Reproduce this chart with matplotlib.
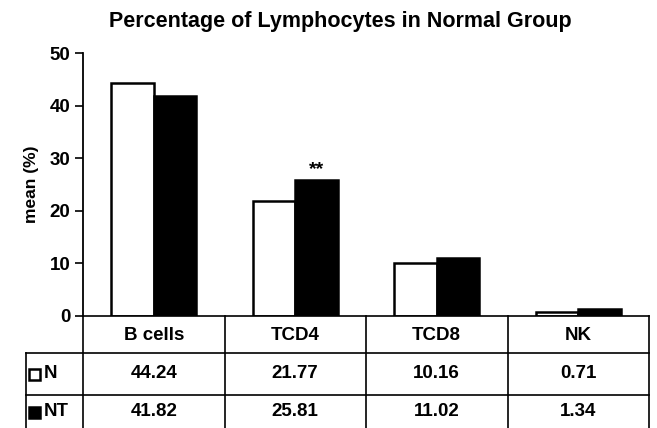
import matplotlib
matplotlib.use('Agg')
from matplotlib import pyplot as plt
from matplotlib import transforms
from matplotlib.patches import Rectangle

plt.rcParams['font.family'] = ['Liberation Sans', 'DejaVu Sans']

# 数据
categories = ['B cells', 'TCD4', 'TCD8', 'NK']
series_names = ['N', 'NT']
values_n = [44.24, 21.77, 10.16, 0.71]
values_nt = [41.82, 25.81, 11.02, 1.34]
value_labels_n = ['44.24', '21.77', '10.16', '0.71']
value_labels_nt = ['41.82', '25.81', '11.02', '1.34']
y_ticks = [0, 10, 20, 30, 40, 50]

W, H = 657, 428
fig = plt.figure(figsize=(W / 100, H / 100), dpi=100)
fig.patch.set_facecolor('white')

# 坐标轴位置（像素）
ax_left, ax_right, ax_top, ax_bottom = 83, 649, 53, 316
ax = fig.add_axes([ax_left / W, (H - ax_bottom) / H,
                   (ax_right - ax_left) / W, (ax_bottom - ax_top) / H])

x = list(range(len(categories)))
bw = 0.3
ax.bar([i - bw / 2 for i in x], values_n, bw, color='white',
       edgecolor='black', linewidth=1.8)
ax.bar([i + bw / 2 for i in x], values_nt, bw, color='black',
       edgecolor='black', linewidth=1.8)
ax.text(1 + bw / 2, values_nt[1] + 0.4, '**', ha='center', va='bottom',
        fontsize=14, fontweight='bold')

ax.set_xlim(-0.5, len(categories) - 0.5)
ax.set_ylim(0, 50)
ax.set_yticks(y_ticks)
ax.set_yticklabels([str(t) for t in y_ticks], fontsize=13.5, fontweight='bold')
ax.tick_params(axis='y', direction='out', length=6, width=1.2, pad=3)
ax.set_xticks([])
for s in ['top', 'right', 'bottom']:
    ax.spines[s].set_visible(False)
ax.spines['left'].set_linewidth(1.3)
ax.set_ylabel('mean (%)', fontsize=12.5, fontweight='bold', labelpad=8)

fig.text(340 / W, 1 - 22 / H, 'Percentage of Lymphocytes in Normal Group',
         ha='center', va='center', fontsize=15.5, fontweight='bold')

# 数据表（x 用数据坐标, y 用像素）
def py(p):
    return (ax_bottom - p) / (ax_bottom - ax_top)

tr = transforms.blended_transform_factory(ax.transData, ax.transAxes)
unit = (ax_right - ax_left) / len(categories)
x_left_tab = -0.5 - (ax_left - 26) / unit
row1, row2, row_end = 353, 395, 430
lw = 1.2
kw = dict(transform=tr, clip_on=False, color='black', linewidth=lw)

ax.plot([-0.5, len(categories) - 0.5], [py(ax_bottom)] * 2, **kw)
ax.plot([x_left_tab, len(categories) - 0.5], [py(row1)] * 2, **kw)
ax.plot([x_left_tab, len(categories) - 0.5], [py(row2)] * 2, **kw)
for b in range(len(categories) + 1):
    ax.plot([b - 0.5] * 2, [py(ax_bottom), py(row_end)], **kw)
ax.plot([x_left_tab] * 2, [py(row1), py(row_end)], **kw)

fs = 13.5
fw = 'bold'
for i, c in enumerate(categories):
    ax.text(i, py(335), c, transform=tr, ha='center', va='center',
            fontsize=fs, fontweight=fw)
    ax.text(i, py(374), value_labels_n[i], transform=tr, ha='center',
            va='center', fontsize=fs, fontweight=fw)
    ax.text(i, py(412), value_labels_nt[i], transform=tr, ha='center',
            va='center', fontsize=fs, fontweight=fw)

# 图例方块
sq = 11 / unit
sq_h = 11 / (ax_bottom - ax_top)
for ry, fc, name in [(374, 'white', series_names[0]),
                     (412, 'black', series_names[1])]:
    ax.add_patch(Rectangle((x_left_tab + 2.5 / unit, py(ry) - sq_h / 2), sq,
                           sq_h, transform=tr, clip_on=False, facecolor=fc,
                           edgecolor='black', linewidth=1.8))
    ax.text(x_left_tab + 18 / unit, py(ry), name, transform=tr, ha='left',
            va='center', fontsize=fs, fontweight=fw)

plt.savefig('out.png', dpi=100)
